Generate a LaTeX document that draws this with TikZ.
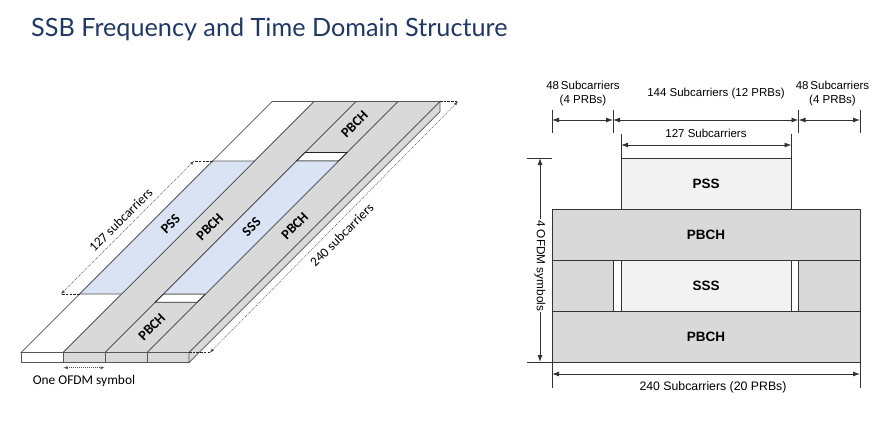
\documentclass[tikz,border=0pt]{standalone}
\usepackage{fontspec}
\setmainfont{Liberation Sans}
\newfontfamily\calibfont{Carlito}
\newfontfamily\titlefont{Lato}
\usetikzlibrary{arrows.meta}
\definecolor{pbchgray}{HTML}{D9D9D9}
\definecolor{ssblue}{HTML}{DAE3F3}
\definecolor{lightbox}{HTML}{F2F2F2}
\definecolor{navy}{HTML}{1F3864}
\definecolor{edgec}{HTML}{555555}
\definecolor{boxline}{HTML}{333333}
% band of a slanted strip: #1 = left x at bottom, #2 = lower y, #3 = upper y, #4 = style
\newcommand\bandfill[4]{%
  \path[#4] ({#1+352.5-#2},#2) -- ({#1+42+352.5-#2},#2) -- ({#1+42+352.5-#3},#3) -- ({#1+352.5-#3},#3) -- cycle;}
\begin{document}
\begin{tikzpicture}[x=1pt,y=-1pt,
  lbl/.style={font=\calibfont\bfseries\fontsize{14}{14}\selectfont, inner sep=0pt},
  clbl/.style={font=\calibfont\fontsize{13.4}{13.4}\selectfont, inner sep=0pt},
  ext/.style={draw=black!85, line width=0.6pt, dash pattern=on 2.5pt off 1.2pt},
  dimdot/.style={draw=black!70, line width=0.5pt, dash pattern=on 1pt off 1pt,
     {Latex[length=4pt,width=3pt]}-{Latex[length=4pt,width=3pt]}},
  rbox/.style={draw=boxline, line width=0.8pt},
  rlbl/.style={font=\bfseries\fontsize{13.5}{13.5}\selectfont, inner sep=0pt},
  rtxt/.style={font=\fontsize{11.5}{13.5}\selectfont, inner sep=0pt, align=center},
  tick/.style={draw=boxline, line width=0.9pt},
  dimarr/.style={draw=boxline, line width=0.9pt,
     {Latex[length=7pt,width=5pt]}-{Latex[length=7pt,width=5pt]}}
]
\useasboundingbox (0,0) rectangle (896,421);

% ---------- title ----------
\node[anchor=base west, inner sep=0pt, text=navy,
      font=\titlefont\fontsize{25.2}{25.2}\selectfont] (title) at (31,36.5)
  {SSB Frequency and Time Domain Structure};

% ---------- left: 3-D slab ----------
\bandfill{21}{352.5}{101.5}{fill=white, draw=edgec, line width=0.7pt}
\bandfill{63}{352.5}{101.5}{fill=pbchgray, draw=edgec, line width=0.7pt}
\bandfill{105}{352.5}{101.5}{fill=pbchgray, draw=edgec, line width=0.7pt}
\bandfill{147}{352.5}{101.5}{fill=pbchgray, draw=edgec, line width=0.7pt}
% PSS
\bandfill{21}{294}{161}{fill=ssblue, draw=edgec, line width=0.7pt}
% SSS with guard gaps
\bandfill{105}{302.3}{294}{fill=white, draw=black!85, line width=0.8pt}
\bandfill{105}{161}{152.5}{fill=white, draw=black!85, line width=0.8pt}
\bandfill{105}{294}{161}{fill=ssblue, draw=edgec, line width=0.7pt}
% front face
\draw[fill=white, draw=edgec, line width=0.7pt] (21,352.5) rectangle (63,362.5);
\draw[fill=pbchgray, draw=edgec, line width=0.7pt] (63,352.5) rectangle (105,362.5);
\draw[fill=pbchgray, draw=edgec, line width=0.7pt] (105,352.5) rectangle (147,362.5);
\draw[fill=pbchgray, draw=edgec, line width=0.7pt] (147,352.5) rectangle (189,362.5);
% right side face
\draw[fill=pbchgray, draw=edgec, line width=0.7pt]
  (189,352.5) -- (440,101.5) -- (440,111.5) -- (189,362.5) -- cycle;

% strip labels
\node[lbl, rotate=45] (pss)   at (170.5,224)   {PSS};
\node[lbl, rotate=45] (pbchA) at (209.8,226.7) {PBCH};
\node[lbl, rotate=45] (sss)   at (251.5,227)   {SSS};
\node[lbl, rotate=45] (pbchB) at (294.8,225.7) {PBCH};
\node[lbl, rotate=45] (pbchC) at (354.5,124)   {PBCH};
\node[lbl, rotate=45] (pbchD) at (151.8,326.7) {PBCH};

% 127 subcarriers dimension
\coordinate (pssB) at (79.5,294);
\coordinate (pssT) at (212.5,161);
\coordinate (d127B) at (61,294);
\coordinate (d127T) at (194,161);
\draw[ext] (pssB) -- (d127B);
\draw[ext] (pssT) -- (d127T);
\draw[dimdot] (d127B) -- (d127T);
\node[clbl, rotate=45] (t127) at (120.7,220) {127 subcarriers};

% 240 subcarriers dimension
\coordinate (slabB) at (189,352.5);
\coordinate (slabT) at (440,101.5);
\coordinate (d240B) at (210,352.5);
\coordinate (d240T) at (458,101.5);
\draw[ext] (slabB) -- (d240B);
\draw[ext] (slabT) -- (d240T);
\draw[dimdot] (d240B) -- (d240T);
\node[clbl, rotate=45] (t240) at (341.7,235) {240 subcarriers};

% one OFDM symbol
\coordinate (symL) at (63.5,367.7);
\coordinate (symR) at (104.5,367.7);
\draw[dimdot] (symL) -- (symR);
\node[clbl] (tsym) at (84,381) {One OFDM symbol};

% ---------- right: 2-D grid ----------
\draw[rbox, fill=lightbox] (621,158) rectangle (791.5,209);
\draw[rbox, fill=pbchgray] (552,209) rectangle (860,260);
\draw[rbox, fill=pbchgray] (552,260) rectangle (613,311);
\draw[rbox, fill=white] (613,260) rectangle (621,311);
\draw[rbox, fill=lightbox] (621,260) rectangle (791.5,311);
\draw[rbox, fill=white] (791.5,260) rectangle (798.5,311);
\draw[rbox, fill=pbchgray] (798.5,260) rectangle (860,311);
\draw[rbox, fill=pbchgray] (552,311) rectangle (860,362);
\node[rlbl] (rpss)  at (706,184)   {PSS};
\node[rlbl] (rpb1)  at (706,234.5) {PBCH};
\node[rlbl] (rsss)  at (706,285.5) {SSS};
\node[rlbl] (rpb2)  at (706,336.5) {PBCH};

% top dimension ticks
\draw[tick] (552,110) -- (552,132.7);
\draw[tick] (613,110) -- (613,132.7);
\draw[tick] (798.5,110) -- (798.5,132.7);
\draw[tick] (860,110) -- (860,132.7);
\draw[dimarr] (552,120) -- (613,120);
\draw[dimarr] (613,120) -- (798.5,120);
\draw[dimarr] (798.5,120) -- (860,120);
\node[rtxt] (t48L) at (583,93.5) {48\,Subcarriers\\(4 PRBs)};
\node[rtxt] (t144) at (716,93.8) {144 Subcarriers (12 PRBs)};
\node[rtxt] (t48R) at (832.5,93.5) {48\,Subcarriers\\(4 PRBs)};
% 127 subcarriers
\draw[tick] (621,134) -- (621,158);
\draw[tick] (791.5,134) -- (791.5,158);
\draw[dimarr] (621,145) -- (791.5,145);
\node[rtxt] (t127r) at (706,133.8) {127 Subcarriers};

% left vertical dimension
\draw[tick] (526.7,158) -- (552,158);
\draw[tick] (526.7,362) -- (552,362);
\draw[dimarr] (540,158) -- (540,362);
\node[rtxt, fill=white, inner sep=1pt, rotate=-90, font=\fontsize{11.8}{12}\selectfont] (t4sym) at (540,265.7) {4 OFDM symbols};

% bottom dimension
\draw[tick] (552,362) -- (552,388.3);
\draw[tick] (860,362) -- (860,388.3);
\draw[dimarr] (552,374) -- (860,374);
\node[rtxt, font=\fontsize{12.3}{13}\selectfont] (t240r) at (713,387.3) {240 Subcarriers (20 PRBs)};
\end{tikzpicture}
\end{document}
